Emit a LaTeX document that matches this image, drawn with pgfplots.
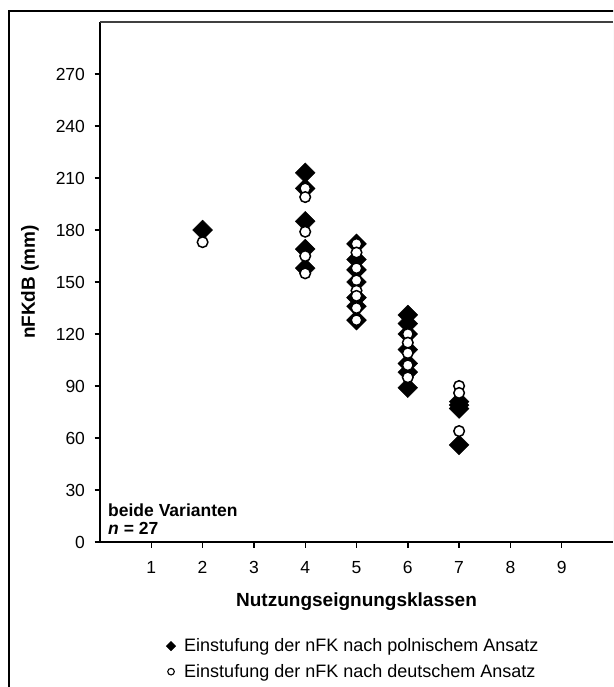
\documentclass[border=0pt]{standalone}
\usepackage{fontspec}
\setmainfont{Liberation Sans}
\usepackage{pgfplots}
\pgfplotsset{compat=1.18}

\begin{document}
\begin{tikzpicture}[x=1pt,y=1pt]
\useasboundingbox (0,0) rectangle (613,-687);
\clip (0,0) rectangle (613,-687);
% outer frame (only left and top edge visible)
\draw[line width=1.4pt] (9,-700) -- (9,-11) -- (630,-11);
\begin{axis}[
    at={(100pt,-542pt)}, anchor=south west,
    scale only axis, width=513pt, height=520pt,
    xmin=0, xmax=10, ymin=0, ymax=300,
    xtick={1,...,9}, ytick={0,30,...,270},
    axis lines=left,
    axis line style={-, line width=1.4pt, black},
    tick align=outside,
    major tick length=5.5pt,
    tick style={line width=1.4pt, black},
    /pgf/number format/assume math mode=true,
    ticklabel style={font=\fontsize{17.5}{20}\selectfont},
    xticklabel style={yshift=-10pt},
    yticklabel style={xshift=-6pt},
    xlabel={Nutzungseignungsklassen},
    ylabel={nFKdB (mm)},
    label style={font=\bfseries\fontsize{19}{22}\selectfont},
    xlabel style={at={(axis description cs:0.5,-0.1148)}, anchor=center},
    ylabel style={at={(axis description cs:-0.1365,0.5)}, anchor=center},
    clip=false,
    legend style={at={(axis description cs:0.1287,-0.182)}, anchor=north west,
        draw=none, fill=none, font=\fontsize{18}{21}\selectfont,
        row sep=7pt, inner sep=0pt},
    legend cell align=left,
]
\addlegendimage{legend image code/.code={\draw[mark=square*, mark size=3.4pt,
    mark options={rotate=45, fill=black, draw=black}] plot coordinates {(0pt,0pt)};
    \path (11pt,0pt);}}
\addlegendentry{Einstufung der nFK nach polnischem Ansatz}
\addlegendimage{legend image code/.code={\draw[mark=*, mark size=3.3pt,
    mark options={fill=white, draw=black, line width=1.1pt}] plot coordinates {(0pt,0pt)};
    \path (11pt,0pt);}}
\addlegendentry{Einstufung der nFK nach deutschem Ansatz}

% polnischer Ansatz (Rauten)
\addplot[only marks, forget plot, mark=square*, mark size=7pt,
    mark options={rotate=45, fill=black, draw=black}] coordinates {
    (2,180)
    (4,213) (4,204) (4,185) (4,169) (4,158)
    (5,172) (5,163) (5,157) (5,150) (5,141) (5,136) (5,128)
    (6,131) (6,126) (6,120) (6,111) (6,103) (6,98) (6,89)
    (7,81) (7,79) (7,77) (7,56)
};
% deutscher Ansatz (Kreise)
\addplot[only marks, forget plot, mark=*, mark size=5.3pt,
    mark options={fill=white, draw=black, line width=1.5pt}] coordinates {
    (2,173)
    (4,204) (4,199) (4,179) (4,165) (4,155)
    (5,172) (5,167) (5,158) (5,151) (5,145) (5,142) (5,135) (5,128)
    (6,120) (6,115) (6,109) (6,102) (6,95)
    (7,90) (7,86) (7,64)
};
\draw[line width=2pt, black!75] (rel axis cs:0,1) -- (rel axis cs:1,1);
\draw[line width=1pt, black!15] (rel axis cs:1,0) -- (rel axis cs:1,1);
\end{axis}
\node[anchor=north west, align=left, inner sep=0pt,
    font=\bfseries\fontsize{17.5}{17.5}\selectfont] at (108,-504)
    {beide Varianten\\\textit{n} = 27};
\end{tikzpicture}
\end{document}
